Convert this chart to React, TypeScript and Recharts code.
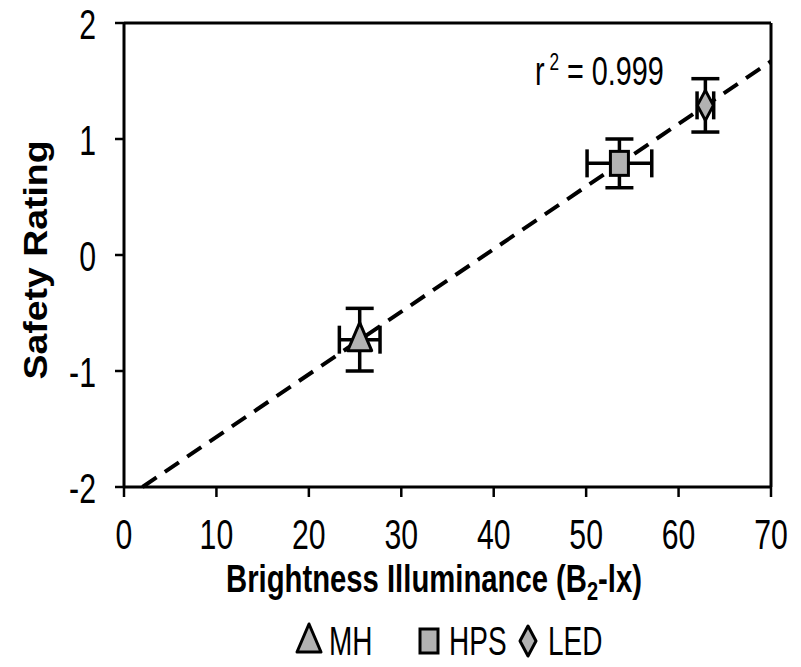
import { ComposedChart, ErrorBar, ReferenceLine, Scatter, XAxis, YAxis } from 'recharts';

const xTicks = [0, 10, 20, 30, 40, 50, 60, 70];
const yTicks = [-2, -1, 0, 1, 2];

// lamp types, brightness (B2-lx), safety rating and their error bars
const lampNames = ['MH', 'HPS', 'LED'];
const brightness = [25.5, 53.6, 62.9];
const brightnessErr = [2.2, 3.5, 0.9];
const safety = [-0.73, 0.79, 1.29];
const safetyErr = [0.27, 0.21, 0.23];

// fitted trend line end points
const fitX = [2, 70];
const fitY = [-2.0, 1.67];
const fitLabel = '0.999';

const FONT = '"Liberation Sans", Arial, sans-serif';
const MARKER_FILL = '#b2b2b2';

const seriesData = lampNames.map((name, i) => [
    { name, x: brightness[i], y: safety[i], ex: brightnessErr[i], ey: safetyErr[i] },
]);

type Kind = 'MH' | 'HPS' | 'LED';

function MarkerIcon({ kind, cx, cy }: { kind: Kind; cx: number; cy: number }) {
    if (kind === 'MH') {
        return <polygon points={`${cx},${cy - 17} ${cx + 12},${cy + 11} ${cx - 12},${cy + 11}`} fill={MARKER_FILL} stroke="#000" strokeWidth={3} strokeLinejoin="round" />;
    }
    if (kind === 'HPS') {
        return <rect x={cx - 9} y={cy - 12} width={18} height={24} fill={MARKER_FILL} stroke="#000" strokeWidth={3} />;
    }
    return <polygon points={`${cx},${cy - 15} ${cx + 8},${cy} ${cx},${cy + 15} ${cx - 8},${cy}`} fill={MARKER_FILL} stroke="#000" strokeWidth={3} strokeLinejoin="round" />;
}

const XTick = ({ x, y, payload }: any) => (
    <text transform={`translate(${x},${y + 50}) scale(0.72,1)`} textAnchor="middle" fontSize={42} fontFamily={FONT} fill="#000">
        {payload.value}
    </text>
);

const YTick = ({ x, y, payload }: any) => (
    <text transform={`translate(${x - 17},${y + 16}) scale(0.72,1)`} textAnchor="end" fontSize={42} fontFamily={FONT} fill="#000">
        {payload.value}
    </text>
);

const legendPos = [309, 429, 528];

export default function App() {
    return (
        <div style={{ position: 'absolute', left: 0, top: 0, width: 801, height: 667, background: '#fff' }}>
            <ComposedChart width={801} height={667} margin={{ top: 23, right: 30, left: 0, bottom: 0 }}>
                <XAxis
                    type="number"
                    dataKey="x"
                    domain={[0, 70]}
                    ticks={xTicks}
                    height={180}
                    tick={<XTick />}
                    tickSize={10}
                    axisLine={{ stroke: '#000', strokeWidth: 3 }}
                    tickLine={{ stroke: '#000', strokeWidth: 2.5 }}
                    allowDataOverflow
                />
                <YAxis
                    type="number"
                    dataKey="y"
                    domain={[-2, 2]}
                    ticks={yTicks}
                    width={124}
                    tick={<YTick />}
                    tickSize={9}
                    axisLine={{ stroke: '#000', strokeWidth: 3 }}
                    tickLine={{ stroke: '#000', strokeWidth: 2.5 }}
                    allowDataOverflow
                />
                <ReferenceLine y={2} stroke="#000" strokeWidth={3} />
                <ReferenceLine x={70} stroke="#000" strokeWidth={3} />
                <ReferenceLine
                    segment={[{ x: fitX[0], y: fitY[0] }, { x: fitX[1], y: fitY[1] }]}
                    stroke="#000"
                    strokeWidth={4}
                    strokeDasharray="17 10"
                />
                {lampNames.map((name, i) => (
                    <Scatter
                        key={name}
                        name={name}
                        data={seriesData[i]}
                        isAnimationActive={false}
                        shape={(p: any) => <MarkerIcon kind={name as Kind} cx={p.cx} cy={p.cy} />}
                    >
                        <ErrorBar dataKey="ex" direction="x" width={14} stroke="#000" strokeWidth={3.5} />
                        <ErrorBar dataKey="ey" direction="y" width={14} stroke="#000" strokeWidth={3.5} />
                    </Scatter>
                ))}
            </ComposedChart>
            <svg width={801} height={667} style={{ position: 'absolute', left: 0, top: 0, pointerEvents: 'none' }}>
                <text transform="translate(535,85) scale(0.72,1)" fontSize={40} fontFamily={FONT} fill="#000">
                    r<tspan fontSize={24} dy={-15}> 2</tspan>
                    <tspan dy={15}> = {fitLabel}</tspan>
                </text>
                <text transform="translate(434,592) scale(0.77,1)" textAnchor="middle" fontSize={38} fontWeight="bold" fontFamily={FONT} fill="#000">
                    Brightness Illuminance (B<tspan fontSize={26} dy={8}>2</tspan>
                    <tspan dy={-8}>-lx)</tspan>
                </text>
                <text transform="translate(47,260) rotate(-90) scale(1.1,1)" textAnchor="middle" fontSize={34} fontWeight="bold" fontFamily={FONT} fill="#000">
                    Safety Rating
                </text>
                {lampNames.map((name, i) => (
                    <g key={name}>
                        <MarkerIcon kind={name as Kind} cx={legendPos[i]} cy={641} />
                        <text transform={`translate(${legendPos[i] + 20},655) scale(0.7,1)`} fontSize={40} fontFamily={FONT} fill="#000">
                            {name}
                        </text>
                    </g>
                ))}
            </svg>
        </div>
    );
}
